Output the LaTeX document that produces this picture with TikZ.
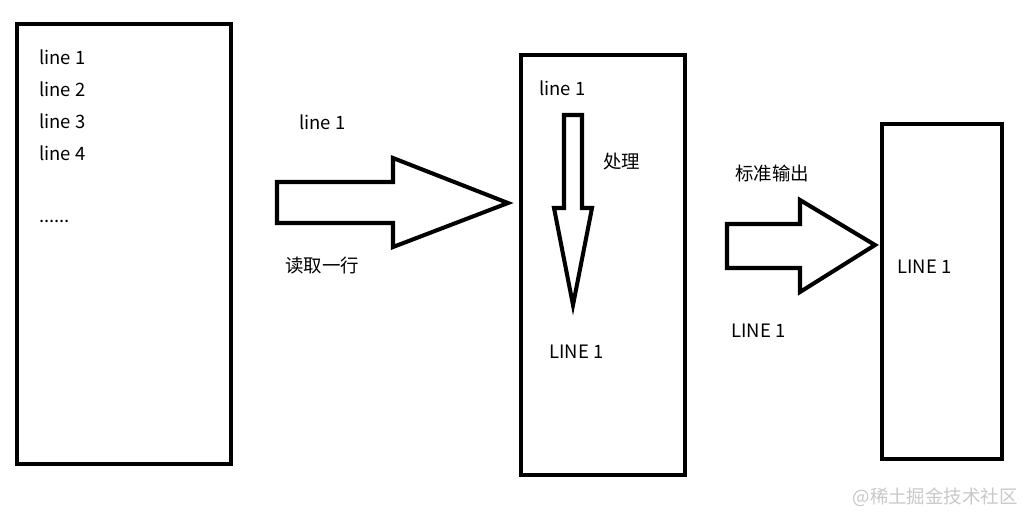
\documentclass[tikz,border=0pt]{standalone}
\usepackage{fontspec}
\setmainfont{Noto Sans CJK SC}
\definecolor{wmGray}{RGB}{200,200,200}
\tikzset{
  frame/.style={line width=2.3pt},
  fat/.style={line width=2.3pt,line join=miter},
  txt/.style={anchor=west,inner sep=0pt,font=\fontsize{10.5}{12}\selectfont}
}
\begin{document}
\begin{tikzpicture}[x=0.02cm,y=-0.02cm]
\useasboundingbox (0,0) rectangle (1026,515);
% the three boxes
\draw[frame] (17,24) rectangle (231,464);
\draw[frame] (521,55) rectangle (685,475);
\draw[frame] (882,124) rectangle (1002,459);
% block arrows
\draw[fat] (277,182)--(393,182)--(393,158)--(508,203)--(393,247)--(393,223)--(277,223)--cycle;
\draw[fat] (564,115)--(582,115)--(582,208)--(592,208)--(573,305)--(554,208)--(564,208)--cycle;
\draw[fat] (727,224)--(800,224)--(800,200)--(875,245)--(800,292)--(800,268)--(727,268)--cycle;
% texts
\node[txt] (l1) at (39,57) {line 1};
\node[txt] (l2) at (39,89) {line 2};
\node[txt] (l3) at (39,121) {line 3};
\node[txt] (l4) at (39,153) {line 4};
\node[txt] (dots) at (39,221) {......};
\node[txt] (inLine) at (299,122) {line 1};
\node[txt] (readOne) at (285,266) {读取一行};
\node[txt] (midLine) at (539,88) {line 1};
\node[txt] (proc) at (603,162) {处理};
\node[txt] (midUp) at (549,352) {LINE 1};
\node[txt] (stdout) at (735,173) {标准输出};
\node[txt] (outLine) at (731,331) {LINE 1};
\node[txt] (lastLine) at (897,267) {LINE 1};
\node[txt,anchor=east,text=wmGray] (mark) at (1018,497) {@稀土掘金技术社区};
\end{tikzpicture}
\end{document}
